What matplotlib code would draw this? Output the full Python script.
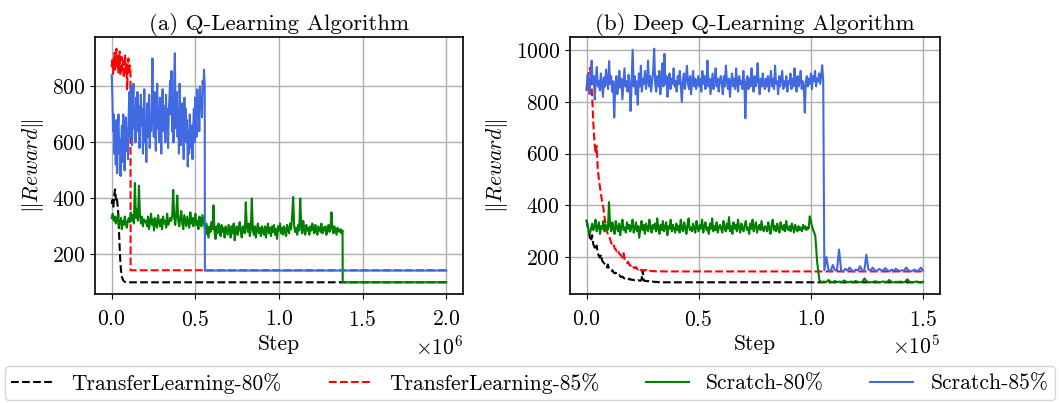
import numpy as np
import matplotlib
matplotlib.use("Agg")
import matplotlib.pyplot as plt

plt.rcParams['font.family'] = 'serif'
plt.rcParams['font.serif'] = ['cmr10']
plt.rcParams['mathtext.fontset'] = 'cm'
plt.rcParams['axes.formatter.use_mathtext'] = True
plt.rcParams['font.size'] = 15.5
plt.rcParams['axes.unicode_minus'] = False
plt.rcParams['xtick.major.pad'] = 8

labels = ["TransferLearning-80%", "TransferLearning-85%", "Scratch-80%", "Scratch-85%"]
titles = ["(a) Q-Learning Algorithm", "(b) Deep Q-Learning Algorithm"]

# ---------------- (a) Q-Learning ----------------
q_tl80_vals = [380, 395, 370, 410, 432, 395, 405, 375, 340, 260, 190, 145, 122, 112, 106, 103, 101, 100, 100]
q_tl80_end = (0.09e6, 0.092e6, 2.0e6, 100)

q_tl85_vals = [870, 900, 845, 880, 920, 860, 895, 935, 870, 910, 850, 885, 925, 840, 875, 905, 860, 890,
               830, 870, 915, 850, 880, 790, 860, 900, 845, 875, 860]
q_tl85_end = (0.112e6, 0.113e6, 2.0e6, 143)

q_s85_vals = [840, 760, 640, 700, 560,
              620, 520, 680, 490, 650, 700, 560, 610, 480, 590, 660, 530, 700, 620, 500, 640, 690, 570, 650, 540,
              700, 780, 620, 800, 680, 590, 740, 810, 650, 720, 600, 760, 690, 780, 640, 730, 580, 700, 770, 660,
              720, 560, 680, 790, 600, 650, 530, 740, 700, 620, 770, 580, 690, 640, 750, 900,
              700, 620, 780, 680, 570, 740, 810, 650, 720, 600, 760, 690, 560, 710, 790, 640, 730, 680, 600, 770,
              650, 720, 580, 700, 760,
              820, 700, 855, 640, 760, 600, 820, 919, 700, 650,
              780, 620, 720, 560, 810, 680, 590, 740, 650, 700, 540, 760, 630,
              720, 600, 680, 514, 640, 560, 700, 620, 580, 660, 540,
              650, 720, 600, 760, 680, 620, 790, 700, 740, 640, 800, 720, 760, 690, 820, 780, 860, 800]
q_s85_end = (0.556e6, 0.557e6, 2.0e6, 142)

q_s80_vals = [330, 345, 320, 335, 310, 325, 340, 300, 315, 330, 290, 320, 305, 335, 310, 295, 320,
              330, 315, 350, 320, 340, 310, 455, 330, 360, 320, 445, 340, 310, 335, 300, 325, 315,
              320, 300, 335, 290, 315, 345, 305, 325, 285, 330, 310, 295, 340, 315, 300, 325, 290, 335, 310, 320,
              295, 345, 305, 315, 330,
              320, 340, 430, 330, 305, 345, 410, 320,
              300, 330, 355, 310, 290, 340, 320, 300, 335, 315, 295, 350, 310, 330, 300, 325, 345, 305, 320, 290,
              335, 315, 300, 340, 320,
              300, 270, 310, 285, 260, 300, 280, 315, 290, 375, 280, 255, 300, 275, 310, 290, 265, 305, 280, 295,
              260, 300, 285, 270, 305,
              290, 260, 300, 275, 310, 250, 285, 300, 270, 295, 315, 280, 260, 300, 290, 275, 386, 300, 280, 310,
              265, 295, 400, 285, 270, 300, 260, 290, 310, 275, 295, 265, 300,
              285, 270, 300, 260, 290, 310, 275, 295, 265, 300, 280, 305, 270, 290, 255, 300, 285, 310, 275, 295,
              270, 300, 285, 265, 305,
              290, 275, 310, 290, 340, 405, 300, 280, 295, 270, 305, 285, 400, 300, 275, 320, 290, 270, 305, 285,
              295, 270, 300, 285, 310,
              290, 275, 305, 285, 270, 300, 290, 280, 310, 275, 295, 285, 300, 270, 290, 305, 280, 295, 350, 290,
              275, 300, 285, 270, 295, 285, 280, 290, 275, 285]
q_s80_end = (1.38e6, 1.381e6, 2.0e6, 100)

# ---------------- (b) Deep Q-Learning ----------------
d_tl80_vals = [342, 318, 300, 275, 262, 285, 250, 240, 228, 245, 215, 205, 198, 210, 185, 180, 175, 168, 160,
               172, 155, 152, 148, 150, 142, 138, 140, 133, 130, 132, 126, 124, 125, 120, 118, 120, 116, 115, 117,
               113, 114, 112, 113, 111, 112, 110, 111, 110, 109, 112, 150, 110, 108, 109, 107, 108, 106, 107, 105,
               106, 105, 104, 105, 104, 103, 104, 103, 103, 103, 103, 103]
d_tl80_end = (0.35e5, 0.36e5, 1.5e5, 103)

d_tl85_vals = [843, 880, 920, 932, 900, 820, 720, 650, 600, 630, 540, 500, 470, 440, 410, 390, 355, 330, 300,
               290, 280, 270, 255, 245, 250, 235, 230, 222, 228, 215, 210, 205, 198, 215, 190, 185, 178, 182, 172,
               168, 165, 170, 160, 158, 162, 155, 153, 158, 150, 152, 149, 150, 148, 151, 147, 149, 146, 148, 146,
               147, 145, 146, 145, 146, 145, 145, 146, 145, 145, 145, 145]
d_tl85_end = (0.35e5, 0.36e5, 1.5e5, 145)

d_s85_vals = [850, 905, 880, 830, 920, 960, 870, 900, 810, 890, 935, 860, 880, 845, 910, 870, 820, 895, 860, 925, 880, 850,
              958, 870, 900, 840, 880, 740, 860, 900, 830, 870, 920, 855, 890, 810, 870, 930, 860, 880, 840, 905, 870, 765,
              880, 1002, 860, 900, 830, 880, 790, 910, 860, 940, 840, 890, 870, 920, 850, 880, 960, 860, 900, 840, 880, 920,
              1006, 870, 840, 900, 860, 920, 830, 880, 950, 860, 986, 870, 900, 820, 880, 910, 850, 890, 870, 930, 860, 880,
              840, 900, 870, 920, 860, 800, 880, 910, 850, 890, 940, 870, 850, 900, 830, 880, 920, 860, 890, 850, 875, 900,
              860, 890, 840, 920, 870, 900, 850, 880, 960, 860, 890, 830, 870, 910, 850, 880, 930, 860, 890, 840, 880, 900,
              870, 830, 900, 860, 940, 880, 850, 890, 820, 880, 910, 860, 890, 850, 930, 870, 840, 900, 870, 880, 850, 920,
              870, 737, 880, 900, 850, 890, 860, 930, 870, 840, 900, 860, 880, 950, 870, 830, 890, 860, 910, 870, 850, 890,
              860, 900, 840, 880, 920, 860, 890, 850, 940, 870, 880, 830, 900, 860, 890, 920, 850, 880, 860, 900, 840, 880,
              870, 910, 850, 890, 860, 930, 870, 840, 900, 860, 880, 920, 850, 880, 860, 759, 880, 900, 860, 890, 870, 910,
              850, 900, 880, 920, 860, 890, 880, 910, 870, 900, 942, 880]
d_s85_tail = [150, 200, 150, 145, 170, 150, 148, 230, 150, 145, 155, 148, 160, 150, 145, 152, 148, 165, 150, 146,
              210, 152, 148, 160, 150, 146, 155, 150, 148, 158, 150, 145, 152, 148, 155, 150, 146, 150, 148, 160,
              150, 145, 148, 152, 146, 150, 160, 148]
d_s85_span = (1.055e5, 1.06e5, 1.5e5)

d_s80_vals = [342, 325, 300, 291, 310, 330, 305, 320, 345, 300, 315, 335, 290, 320, 310, 340, 300, 325, 315, 305,
              413, 320, 300, 335, 310, 290, 340, 315, 300, 330, 285, 320, 345, 305, 315, 295, 335, 310, 325, 300,
              320, 345, 295, 310, 335, 300, 320, 275, 315, 340, 305, 325, 290, 330, 310, 300, 345, 315, 295, 325,
              310, 330, 300, 350, 310, 290, 325, 305, 340, 300, 315, 335, 285, 320, 310, 345, 300, 325, 310, 295,
              330, 305, 320, 295, 345, 310, 300, 335, 315, 290, 325, 350, 305, 315, 300, 330, 310, 295, 340, 315,
              300, 325, 310, 345, 295, 320, 335, 305, 315, 290, 330, 310, 350, 300, 320, 305, 335, 295, 315, 325,
              310, 295, 340, 315, 300, 330, 310, 355, 300, 320, 290, 335, 310, 325, 300, 345, 315, 295, 330, 310,
              300, 325, 340, 305, 315, 290, 330, 310, 345, 300, 320, 335, 295, 315, 325, 305, 340, 310, 300, 320,
              315, 300, 335, 310, 290, 325, 345, 305, 320, 300, 330, 310, 295, 335, 315, 305, 325, 300, 340, 310,
              305, 320, 300, 330, 315, 295, 325, 310, 300, 320, 305, 315, 300, 325, 310, 320, 305, 315, 310, 358,
              340, 320, 305, 295, 280]
d_s80_tail = [180, 110, 104, 106, 103, 112, 105, 104, 108, 103, 106, 104, 110, 105, 103, 106, 104, 108, 105, 103,
              104, 118, 106, 104, 103, 105, 107, 104, 103, 106, 105, 104, 112, 104, 103, 105, 104, 106, 103, 104,
              115, 105, 103, 104, 106, 104, 103, 105]
d_s80_span = (1.02e5, 1.028e5, 1.5e5)


def with_flat_tail(vals, end):
    x_stop, x_drop, x_end, y_end = end
    x = np.linspace(0, x_stop, len(vals))
    return np.append(x, [x_drop, x_end]), np.append(np.array(vals, float), [y_end, y_end])


def with_noisy_tail(vals, tail, span):
    x_stop, x_tail0, x_tail1 = span
    x = np.concatenate([np.linspace(0, x_stop, len(vals)), np.linspace(x_tail0, x_tail1, len(tail))])
    return x, np.concatenate([np.array(vals, float), np.array(tail, float)])


colors = ['black', 'red', 'green', 'royalblue']
styles = ['--', '--', '-', '-']

fig = plt.figure(figsize=(10.59, 4.03), dpi=100)
ax1 = fig.add_axes([0.0897, 0.2705, 0.3475, 0.6377])
ax2 = fig.add_axes([0.538, 0.2705, 0.3495, 0.6377])

q_series = [with_flat_tail(q_tl80_vals, q_tl80_end),
            with_flat_tail(q_tl85_vals, q_tl85_end),
            with_flat_tail(q_s80_vals, q_s80_end),
            with_flat_tail(q_s85_vals, q_s85_end)]
d_series = [with_flat_tail(d_tl80_vals, d_tl80_end),
            with_flat_tail(d_tl85_vals, d_tl85_end),
            with_noisy_tail(d_s80_vals, d_s80_tail, d_s80_span),
            with_noisy_tail(d_s85_vals, d_s85_tail, d_s85_span)]

handles = []
for ax, series, title in [(ax1, q_series, titles[0]), (ax2, d_series, titles[1])]:
    hs = []
    for (x, y), c, ls, lab in zip(series, colors, styles, labels):
        h, = ax.plot(x, y, color=c, linestyle=ls, linewidth=1.5, label=lab)
        hs.append(h)
    handles = hs
    ax.grid(True, color='#b0b0b0', linewidth=1.0)
    ax.set_axisbelow(True)
    ax.set_title(title, fontsize=16.5, pad=5)
    ax.set_xlabel('Step', labelpad=3)
    ax.set_ylabel(r'$\Vert Reward\Vert$')
    ax.ticklabel_format(style='sci', axis='x', scilimits=(0, 0))
    for s in ax.spines.values():
        s.set_linewidth(1.2)

fig.legend(handles, labels, loc='lower left', bbox_to_anchor=(0.0047, 0.0074, 0.9915, 0.082),
           mode='expand', ncol=4, borderaxespad=0, borderpad=0.3)

fig.savefig('out.png', dpi=100)
